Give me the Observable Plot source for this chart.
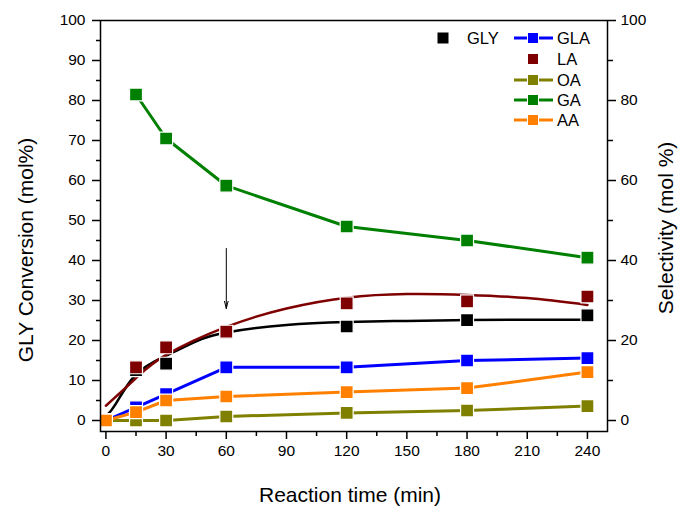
<!DOCTYPE html>
<html><head><meta charset="utf-8">
<script src="https://cdn.jsdelivr.net/npm/d3@7"></script>
<script src="https://cdn.jsdelivr.net/npm/@observablehq/plot@0.6"></script>
<style>
body{margin:0;background:#fff}
#chart{width:678px;height:509px}
</style>
</head><body><div id="chart"></div>
<script>
// ---- data ----
const times = [0, 15, 30, 60, 120, 180, 240];
const seriesNames = ["GLY", "GLA", "LA", "OA", "GA", "AA"];
const seriesColors = ["#000000", "#0000ff", "#7f0000", "#808000", "#008000", "#ff8000"];
const GLY = [0, 12.6, 14.2, 22.0, 23.5, 25.1, 26.3];
const GLA = [0, 3.3, 6.6, 13.3, 13.3, 15.0, 15.6];
const LA  = [0, 13.3, 18.3, 22.2, 29.3, 29.8, 31.0];
const OA  = [0, 0, 0, 1.0, 1.9, 2.5, 3.6];
const GA  = [null, 81.5, 70.5, 58.7, 48.5, 45.0, 40.7];
const AA  = [0, 2.1, 5.0, 6.0, 7.1, 8.1, 12.1];
const linedSeries = ["GLA", "OA", "GA", "AA"];

// fitted curves as drawn in the reference
const glyFitX = [0, 5, 15, 30, 45, 60, 90, 120, 150, 180, 210, 240];
const glyFitY = [1.0, 4.2, 11.5, 16.2, 19.8, 22.0, 23.9, 24.6, 24.9, 25.1, 25.2, 25.2];
const laFitX = [0, 15, 30, 60, 90, 120, 150, 180, 210, 240];
const laFitY = [3.7, 10.6, 16.4, 23.4, 28.0, 30.7, 31.6, 31.4, 30.6, 28.9];

// annotation arrow
const arrowX = 60, arrowFrom = 43, arrowTo = 28;

const xMajor = [0, 30, 60, 90, 120, 150, 180, 210, 240];
const xMinor = [15, 45, 75, 105, 135, 165, 195, 225];
const yLeftMajor = [0, 10, 20, 30, 40, 50, 60, 70, 80, 90, 100];
const yLeftMinor = [5, 15, 25, 35, 45, 55, 65, 75, 85, 95];
const yRightMajor = [0, 20, 40, 60, 80, 100];
const yRightMinor = [10, 30, 50, 70, 90];

// ---- build table ----
const valuesBySeries = {GLY, GLA, LA, OA, GA, AA};
const rows = [];
for (const s of seriesNames) {
  valuesBySeries[s].forEach((v, i) => { if (v != null) rows.push({series: s, time: times[i], value: v}); });
}
const glyFit = glyFitX.map((x, i) => ({x, y: glyFitY[i]}));
const laFit = laFitX.map((x, i) => ({x, y: laFitY[i]}));

const font = "'Liberation Sans', Arial, sans-serif";

const plot = Plot.plot({
  width: 678, height: 509,
  marginLeft: 100, marginRight: 71, marginTop: 20, marginBottom: 78,
  style: {fontFamily: font, fontSize: "15.5px", color: "#000", background: "#fff"},
  x: {domain: [-2.7, 250]},
  y: {domain: [-2.75, 100]},
  color: {domain: seriesNames, range: seriesColors},
  marks: [
    Plot.line(glyFit, {x: "x", y: "y", stroke: "#000", strokeWidth: 2.5, curve: "natural"}),
    Plot.line(laFit, {x: "x", y: "y", stroke: "#7f0000", strokeWidth: 2.5, curve: "natural"}),
    Plot.line(rows.filter(d => linedSeries.includes(d.series)), {x: "time", y: "value", z: "series", stroke: "series", strokeWidth: 3}),
    Plot.dot(rows, {x: "time", y: "value", fill: "series", symbol: "square", r: 7.3, stroke: "#fff", strokeWidth: 1.2}),
    Plot.arrow([{x: arrowX, y1: arrowFrom, y2: arrowTo}], {x1: "x", x2: "x", y1: "y1", y2: "y2", stroke: "#000", strokeWidth: 1, headLength: 11, headAngle: 28}),
    Plot.frame({stroke: "#000", strokeWidth: 1.5}),
    Plot.axisX({ticks: xMajor, tickSize: 8, tickPadding: 5, strokeWidth: 1.5, label: null}),
    Plot.axisX({ticks: xMinor, tickSize: 5, tickFormat: () => "", strokeWidth: 1.5, label: null}),
    Plot.axisY({anchor: "left", ticks: yLeftMajor, tickSize: 8, tickPadding: 7, strokeWidth: 1.5, label: null}),
    Plot.axisY({anchor: "left", ticks: yLeftMinor, tickSize: 4, tickFormat: () => "", strokeWidth: 1.5, label: null}),
    Plot.axisY({anchor: "right", ticks: yRightMajor, tickSize: 8, tickPadding: 5, strokeWidth: 1.5, label: null}),
    Plot.axisY({anchor: "right", ticks: yRightMinor, tickSize: 5, tickFormat: () => "", strokeWidth: 1.5, label: null})
  ]
});

document.getElementById("chart").appendChild(plot);

// ---- axis titles and legend ----
const svg = d3.select(plot);
svg.append("text").attr("transform", "translate(33,250) rotate(-90)")
  .attr("text-anchor", "middle").attr("font-size", 21).attr("font-family", font).attr("fill", "#000")
  .text("GLY Conversion (mol%)");
svg.append("text").attr("transform", "translate(673,228) rotate(-90)")
  .attr("text-anchor", "middle").attr("font-size", 21).attr("font-family", font).attr("fill", "#000")
  .text("Selectivity (mol %)");
svg.append("text").attr("x", 350).attr("y", 502)
  .attr("text-anchor", "middle").attr("font-size", 21).attr("font-family", font).attr("fill", "#000")
  .text("Reaction time (min)");

const lg = svg.append("g").attr("font-family", font).attr("font-size", 16.5).attr("fill", "#000").attr("text-anchor", "start");
// GLY entry (marker only)
lg.append("rect").attr("x", 443 - 5.5).attr("y", 38 - 5.5).attr("width", 11).attr("height", 11).attr("fill", seriesColors[0]);
lg.append("text").attr("x", 467).attr("y", 38).attr("dy", "0.36em").attr("text-anchor", "start").text("GLY");
const legendRows = ["GLA", "LA", "OA", "GA", "AA"];
const rowY = [38, 59, 80, 100, 120];
legendRows.forEach((s, i) => {
  const c = seriesColors[seriesNames.indexOf(s)];
  const y = rowY[i];
  if (linedSeries.includes(s)) {
    lg.append("line").attr("x1", 514).attr("x2", 553).attr("y1", y).attr("y2", y).attr("stroke", c).attr("stroke-width", 3);
  }
  lg.append("rect").attr("x", 533 - 5.5).attr("y", y - 5.5).attr("width", 11).attr("height", 11).attr("fill", c).attr("stroke", "#fff").attr("stroke-width", 1);
  lg.append("text").attr("x", 557).attr("y", y).attr("dy", "0.36em").attr("text-anchor", "start").text(s);
});
</script>
</body></html>
